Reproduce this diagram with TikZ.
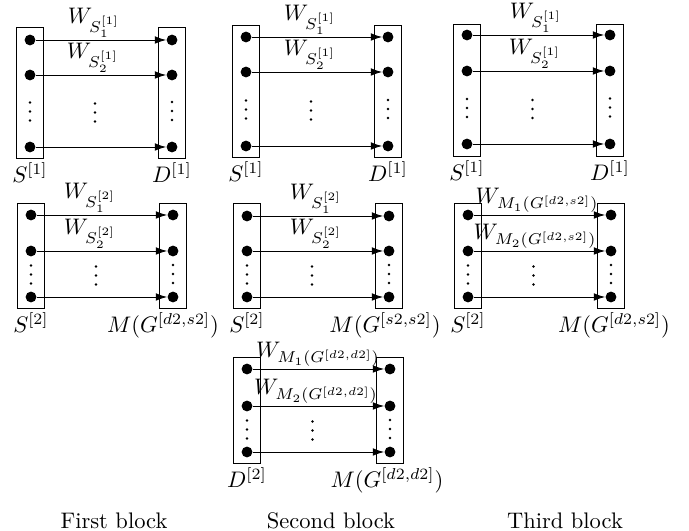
\documentclass[tikz,border=0pt]{standalone}
\usetikzlibrary{arrows.meta,fit,calc}
\tikzset{
  dot/.style={circle, fill=black, inner sep=0pt, minimum size=4.8pt},
  colbox/.style={draw, inner sep=0pt},
  arr/.style={-{Latex[length=5pt,width=3.4pt]}},
  wlab/.style={anchor=south, inner sep=0.8pt},
  setlab/.style={anchor=north, inner sep=1.5pt},
  vdot/.style={circle, fill=black, inner sep=0pt, minimum size=1.2pt},
  blocklab/.style={anchor=base, inner sep=0pt},
}
% vertical ellipsis of three small dots: #1 name, #2 x, #3 centre y
\newcommand\mkvdots[3]{%
  \node[vdot] (#1a) at ({#2},{#3-9}) {};
  \node[vdot] (#1b) at ({#2},{#3}) {};
  \node[vdot] (#1c) at ({#2},{#3+9}) {};
}
% #1 prefix, #2 left x, #3 right x, #4 box top, #5 box bottom, #6 y1, #7 y2, #8 y3
\newcommand\mkpanel[8]{%
  \node[colbox, fit={({#2-13.5},{#4}) ({#2+13.5},{#5})}] (#1L) {};
  \node[colbox, fit={({#3-13.5},{#4}) ({#3+13.5},{#5})}] (#1R) {};
  \foreach \k/\yy in {1/#6,2/#7,3/#8} {
    \node[dot] (#1l\k) at (#2,\yy) {};
    \node[dot] (#1r\k) at (#3,\yy) {};
    \draw[arr] (#1l\k) -- (#1r\k);
  }
  \mkvdots{#1vl}{#2}{(#7+#8)/2+0.5}
  \mkvdots{#1vm}{(#2+#3)/2-6}{(#7+#8)/2+1.5}
  \mkvdots{#1vr}{#3}{(#7+#8)/2}
}
\begin{document}
\begin{tikzpicture}[x=0.4444pt, y=-0.4444pt]
\useasboundingbox (0,0) rectangle (689,531);

% ---- row 1 ----
\mkpanel{pa}{30}{172}{27}{158}{40}{75}{147}
\mkpanel{pb}{246}{388}{25}{157}{37}{72}{146}
\mkpanel{pc}{467}{610}{24}{156}{35}{71}{144}

\node[wlab] (pa-w1) at (94,40) {$W_{S_1^{[1]}}$};
\node[wlab] (pa-w2) at (93,75) {$W_{S_2^{[1]}}$};
\node[wlab] (pb-w1) at (310,37) {$W_{S_1^{[1]}}$};
\node[wlab] (pb-w2) at (310,72) {$W_{S_2^{[1]}}$};
\node[wlab] (pc-w1) at (536,35) {$W_{S_1^{[1]}}$};
\node[wlab] (pc-w2) at (535,71) {$W_{S_2^{[1]}}$};

\node[setlab] (pa-s) at (paL.south) {$S^{[1]}$};
\node[setlab] (pa-d) at (paR.south) {$D^{[1]}$};
\node[setlab] (pb-s) at (pbL.south) {$S^{[1]}$};
\node[setlab] (pb-d) at (pbR.south) {$D^{[1]}$};
\node[setlab] (pc-s) at (pcL.south) {$S^{[1]}$};
\node[setlab] (pc-d) at (pcR.south) {$D^{[1]}$};

% ---- row 2 ----
\mkpanel{qa}{31}{173}{203}{308}{215}{251}{297}
\mkpanel{qb}{247}{389}{203}{308}{216}{251}{297}
\mkpanel{qc}{468}{611}{203}{308}{215}{251}{297}

\node[wlab] (qa-w1) at (90,215) {$W_{S_1^{[2]}}$};
\node[wlab] (qa-w2) at (90,251) {$W_{S_2^{[2]}}$};
\node[wlab] (qb-w1) at (316,216) {$W_{S_1^{[2]}}$};
\node[wlab] (qb-w2) at (316,251) {$W_{S_2^{[2]}}$};
\node[wlab] (qc-w1) at (537,215) {$W_{M_1(G^{[d2,s2]})}$};
\node[wlab] (qc-w2) at (535,251) {$W_{M_2(G^{[d2,s2]})}$};

\node[setlab] (qa-s) at (qaL.south) {$S^{[2]}$};
\node[setlab] (qa-m) at ($(qaR.south)+(-10,0)$) {$M(G^{[d2,s2]})$};
\node[setlab] (qb-s) at (qbL.south) {$S^{[2]}$};
\node[setlab] (qb-m) at ($(qbR.south)+(-4,0)$) {$M(G^{[s2,s2]})$};
\node[setlab] (qc-s) at (qcL.south) {$S^{[2]}$};
\node[setlab] (qc-m) at ($(qcR.south)+(3,0)$) {$M(G^{[d2,s2]})$};

% ---- row 3 ----
\mkpanel{ra}{247}{390}{357}{463}{369}{406}{452}

\node[wlab] (ra-w1) at (318,369) {$W_{M_1(G^{[d2,d2]})}$};
\node[wlab] (ra-w2) at (316,406) {$W_{M_2(G^{[d2,d2]})}$};

\node[setlab] (ra-d) at (raL.south) {$D^{[2]}$};
\node[setlab] (ra-m) at ($(raR.south)+(-3,0)$) {$M(G^{[d2,d2]})$};

% ---- block captions ----
\node[blocklab] (cap1) at (114,528.5) {First block};
\node[blocklab] (cap2) at (331,528.5) {Second block};
\node[blocklab] (cap3) at (565,528.5) {Third block};
\end{tikzpicture}
\end{document}
